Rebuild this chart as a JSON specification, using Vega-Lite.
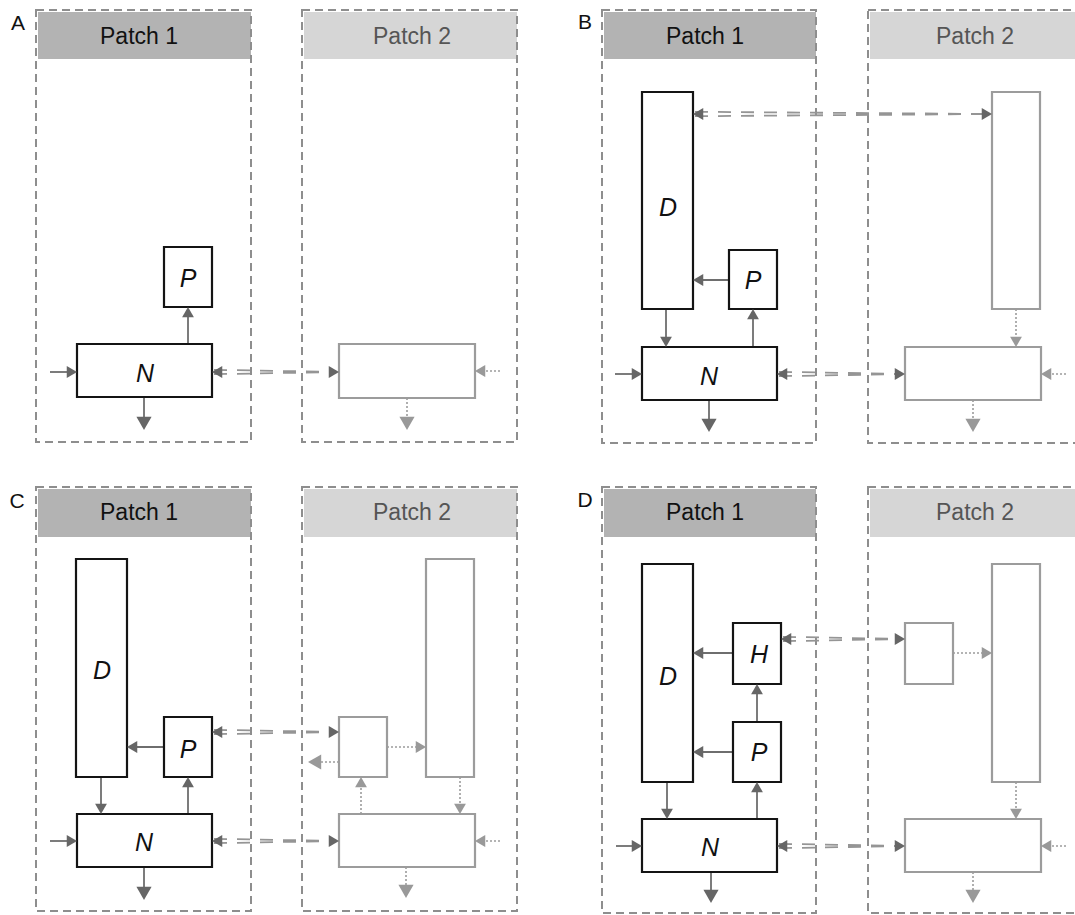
{
  "$schema": "https://vega.github.io/schema/vega-lite/v6.json",
  "width": 1075,
  "height": 915,
  "autosize": "none",
  "padding": 0,
  "background": "white",
  "config": {"view": {"stroke": null}},
  "resolve": {"scale": {"color": "independent", "stroke": "independent"}},
  "datasets": {
    "patches": [
      {"panel": "A", "patch": "1", "title": "Patch 1", "bx0": 36, "bx1": 251, "by0": 10, "by1": 442, "hx0": 38, "hx1": 251, "hy0": 12, "hy1": 59, "tx": 139, "ty": 37},
      {"panel": "A", "patch": "2", "title": "Patch 2", "bx0": 302, "bx1": 517, "by0": 10, "by1": 442, "hx0": 304, "hx1": 517, "hy0": 12, "hy1": 59, "tx": 412, "ty": 37},
      {"panel": "B", "patch": "1", "title": "Patch 1", "bx0": 602, "bx1": 816, "by0": 10, "by1": 443, "hx0": 604, "hx1": 816, "hy0": 12, "hy1": 59, "tx": 705, "ty": 37},
      {"panel": "B", "patch": "2", "title": "Patch 2", "bx0": 868, "bx1": 1083, "by0": 10, "by1": 443, "hx0": 870, "hx1": 1083, "hy0": 12, "hy1": 59, "tx": 975, "ty": 37},
      {"panel": "C", "patch": "1", "title": "Patch 1", "bx0": 36, "bx1": 251, "by0": 487, "by1": 911, "hx0": 38, "hx1": 251, "hy0": 489, "hy1": 537, "tx": 139, "ty": 513},
      {"panel": "C", "patch": "2", "title": "Patch 2", "bx0": 302, "bx1": 517, "by0": 487, "by1": 911, "hx0": 304, "hx1": 517, "hy0": 489, "hy1": 537, "tx": 412, "ty": 513},
      {"panel": "D", "patch": "1", "title": "Patch 1", "bx0": 602, "bx1": 816, "by0": 487, "by1": 913, "hx0": 604, "hx1": 816, "hy0": 489, "hy1": 537, "tx": 705, "ty": 513},
      {"panel": "D", "patch": "2", "title": "Patch 2", "bx0": 868, "bx1": 1083, "by0": 487, "by1": 913, "hx0": 870, "hx1": 1083, "hy0": 489, "hy1": 537, "tx": 975, "ty": 513}
    ],
    "panelLabels": [
      {"label": "A", "x": 18, "y": 24},
      {"label": "B", "x": 585, "y": 23},
      {"label": "C", "x": 17, "y": 502},
      {"label": "D", "x": 585, "y": 501}
    ],
    "boxes": [
      {"panel": "A", "kind": "p1", "label": "P", "x0": 164, "x1": 212, "y0": 247, "y1": 307, "lx": 188, "ly": 279},
      {"panel": "A", "kind": "p1", "label": "N", "x0": 77, "x1": 212, "y0": 344, "y1": 397, "lx": 145, "ly": 374},
      {"panel": "A", "kind": "p2", "label": "", "x0": 339, "x1": 475, "y0": 344, "y1": 398, "lx": 407, "ly": 371},
      {"panel": "B", "kind": "p1", "label": "D", "x0": 642, "x1": 693, "y0": 92, "y1": 309, "lx": 668, "ly": 208},
      {"panel": "B", "kind": "p1", "label": "P", "x0": 729, "x1": 777, "y0": 250, "y1": 309, "lx": 753, "ly": 281},
      {"panel": "B", "kind": "p1", "label": "N", "x0": 642, "x1": 777, "y0": 347, "y1": 400, "lx": 709, "ly": 377},
      {"panel": "B", "kind": "p2", "label": "", "x0": 992, "x1": 1040, "y0": 92, "y1": 309, "lx": 1016, "ly": 200},
      {"panel": "B", "kind": "p2", "label": "", "x0": 905, "x1": 1041, "y0": 347, "y1": 400, "lx": 973, "ly": 374},
      {"panel": "C", "kind": "p1", "label": "D", "x0": 76, "x1": 127, "y0": 559, "y1": 777, "lx": 102, "ly": 671},
      {"panel": "C", "kind": "p1", "label": "P", "x0": 164, "x1": 212, "y0": 717, "y1": 777, "lx": 188, "ly": 750},
      {"panel": "C", "kind": "p1", "label": "N", "x0": 77, "x1": 212, "y0": 814, "y1": 867, "lx": 144, "ly": 843},
      {"panel": "C", "kind": "p2", "label": "", "x0": 339, "x1": 387, "y0": 717, "y1": 777, "lx": 363, "ly": 747},
      {"panel": "C", "kind": "p2", "label": "", "x0": 426, "x1": 474, "y0": 559, "y1": 777, "lx": 450, "ly": 668},
      {"panel": "C", "kind": "p2", "label": "", "x0": 339, "x1": 475, "y0": 814, "y1": 867, "lx": 407, "ly": 841},
      {"panel": "D", "kind": "p1", "label": "D", "x0": 642, "x1": 693, "y0": 564, "y1": 782, "lx": 668, "ly": 677},
      {"panel": "D", "kind": "p1", "label": "H", "x0": 733, "x1": 781, "y0": 623, "y1": 684, "lx": 759, "ly": 655},
      {"panel": "D", "kind": "p1", "label": "P", "x0": 733, "x1": 781, "y0": 722, "y1": 782, "lx": 759, "ly": 753},
      {"panel": "D", "kind": "p1", "label": "N", "x0": 642, "x1": 777, "y0": 819, "y1": 872, "lx": 710, "ly": 848},
      {"panel": "D", "kind": "p2", "label": "", "x0": 905, "x1": 953, "y0": 623, "y1": 684, "lx": 929, "ly": 653},
      {"panel": "D", "kind": "p2", "label": "", "x0": 992, "x1": 1040, "y0": 564, "y1": 782, "lx": 1016, "ly": 673},
      {"panel": "D", "kind": "p2", "label": "", "x0": 905, "x1": 1041, "y0": 819, "y1": 872, "lx": 973, "ly": 846}
    ],
    "lines": [
      {"panel": "A", "style": "solid", "x": 188, "y": 344, "x2": 188, "y2": 309},
      {"panel": "A", "style": "solid", "x": 50, "y": 372, "x2": 75, "y2": 372},
      {"panel": "A", "style": "solid", "x": 144, "y": 397, "x2": 144, "y2": 426},
      {"panel": "A", "style": "double", "x": 214, "y": 372, "x2": 337, "y2": 372},
      {"panel": "A", "style": "dotted", "x": 500, "y": 371, "x2": 477, "y2": 371},
      {"panel": "A", "style": "dotted", "x": 407, "y": 398, "x2": 407, "y2": 426},
      {"panel": "B", "style": "solid", "x": 666, "y": 309, "x2": 666, "y2": 345},
      {"panel": "B", "style": "solid", "x": 753, "y": 347, "x2": 753, "y2": 311},
      {"panel": "B", "style": "solid", "x": 729, "y": 280, "x2": 695, "y2": 280},
      {"panel": "B", "style": "solid", "x": 615, "y": 374, "x2": 640, "y2": 374},
      {"panel": "B", "style": "solid", "x": 709, "y": 400, "x2": 709, "y2": 428},
      {"panel": "B", "style": "double", "x": 695, "y": 114, "x2": 990, "y2": 114},
      {"panel": "B", "style": "double", "x": 779, "y": 374, "x2": 903, "y2": 374},
      {"panel": "B", "style": "dotted", "x": 1016, "y": 309, "x2": 1016, "y2": 345},
      {"panel": "B", "style": "dotted", "x": 1066, "y": 374, "x2": 1043, "y2": 374},
      {"panel": "B", "style": "dotted", "x": 973, "y": 400, "x2": 973, "y2": 428},
      {"panel": "C", "style": "solid", "x": 101, "y": 777, "x2": 101, "y2": 812},
      {"panel": "C", "style": "solid", "x": 188, "y": 814, "x2": 188, "y2": 779},
      {"panel": "C", "style": "solid", "x": 164, "y": 747, "x2": 129, "y2": 747},
      {"panel": "C", "style": "solid", "x": 50, "y": 841, "x2": 75, "y2": 841},
      {"panel": "C", "style": "solid", "x": 144, "y": 867, "x2": 144, "y2": 896},
      {"panel": "C", "style": "double", "x": 214, "y": 732, "x2": 337, "y2": 732},
      {"panel": "C", "style": "double", "x": 214, "y": 841, "x2": 337, "y2": 841},
      {"panel": "C", "style": "dotted", "x": 387, "y": 747, "x2": 424, "y2": 747},
      {"panel": "C", "style": "dotted", "x": 339, "y": 762, "x2": 313, "y2": 762},
      {"panel": "C", "style": "dotted", "x": 361, "y": 814, "x2": 361, "y2": 779},
      {"panel": "C", "style": "dotted", "x": 460, "y": 777, "x2": 460, "y2": 812},
      {"panel": "C", "style": "dotted", "x": 500, "y": 841, "x2": 477, "y2": 841},
      {"panel": "C", "style": "dotted", "x": 406, "y": 867, "x2": 406, "y2": 894},
      {"panel": "D", "style": "solid", "x": 667, "y": 782, "x2": 667, "y2": 817},
      {"panel": "D", "style": "solid", "x": 757, "y": 819, "x2": 757, "y2": 784},
      {"panel": "D", "style": "solid", "x": 757, "y": 722, "x2": 757, "y2": 686},
      {"panel": "D", "style": "solid", "x": 733, "y": 653, "x2": 695, "y2": 653},
      {"panel": "D", "style": "solid", "x": 733, "y": 752, "x2": 695, "y2": 752},
      {"panel": "D", "style": "solid", "x": 616, "y": 846, "x2": 640, "y2": 846},
      {"panel": "D", "style": "solid", "x": 711, "y": 872, "x2": 711, "y2": 899},
      {"panel": "D", "style": "double", "x": 783, "y": 639, "x2": 903, "y2": 639},
      {"panel": "D", "style": "double", "x": 779, "y": 846, "x2": 903, "y2": 846},
      {"panel": "D", "style": "dotted", "x": 953, "y": 653, "x2": 990, "y2": 653},
      {"panel": "D", "style": "dotted", "x": 1016, "y": 782, "x2": 1016, "y2": 817},
      {"panel": "D", "style": "dotted", "x": 1066, "y": 846, "x2": 1043, "y2": 846},
      {"panel": "D", "style": "dotted", "x": 973, "y": 872, "x2": 973, "y2": 899}
    ],
    "heads": [
      {"x": 188, "y": 307, "dir": "up", "sz": "s", "tone": "dark"},
      {"x": 77, "y": 372, "dir": "right", "sz": "s", "tone": "dark"},
      {"x": 144, "y": 430, "dir": "down", "sz": "b", "tone": "dark"},
      {"x": 212, "y": 372, "dir": "left", "sz": "s", "tone": "dark"},
      {"x": 339, "y": 372, "dir": "right", "sz": "s", "tone": "dark"},
      {"x": 475, "y": 371, "dir": "left", "sz": "s", "tone": "light"},
      {"x": 407, "y": 430, "dir": "down", "sz": "b", "tone": "light"},
      {"x": 666, "y": 347, "dir": "down", "sz": "s", "tone": "dark"},
      {"x": 753, "y": 309, "dir": "up", "sz": "s", "tone": "dark"},
      {"x": 693, "y": 280, "dir": "left", "sz": "s", "tone": "dark"},
      {"x": 642, "y": 374, "dir": "right", "sz": "s", "tone": "dark"},
      {"x": 709, "y": 432, "dir": "down", "sz": "b", "tone": "dark"},
      {"x": 693, "y": 114, "dir": "left", "sz": "s", "tone": "dark"},
      {"x": 992, "y": 114, "dir": "right", "sz": "s", "tone": "dark"},
      {"x": 777, "y": 374, "dir": "left", "sz": "s", "tone": "dark"},
      {"x": 905, "y": 374, "dir": "right", "sz": "s", "tone": "dark"},
      {"x": 1016, "y": 347, "dir": "down", "sz": "s", "tone": "light"},
      {"x": 1041, "y": 374, "dir": "left", "sz": "s", "tone": "light"},
      {"x": 973, "y": 432, "dir": "down", "sz": "b", "tone": "light"},
      {"x": 101, "y": 814, "dir": "down", "sz": "s", "tone": "dark"},
      {"x": 188, "y": 777, "dir": "up", "sz": "s", "tone": "dark"},
      {"x": 127, "y": 747, "dir": "left", "sz": "s", "tone": "dark"},
      {"x": 77, "y": 841, "dir": "right", "sz": "s", "tone": "dark"},
      {"x": 144, "y": 900, "dir": "down", "sz": "b", "tone": "dark"},
      {"x": 212, "y": 732, "dir": "left", "sz": "s", "tone": "dark"},
      {"x": 339, "y": 732, "dir": "right", "sz": "s", "tone": "dark"},
      {"x": 212, "y": 841, "dir": "left", "sz": "s", "tone": "dark"},
      {"x": 339, "y": 841, "dir": "right", "sz": "s", "tone": "dark"},
      {"x": 426, "y": 747, "dir": "right", "sz": "s", "tone": "light"},
      {"x": 308, "y": 762, "dir": "left", "sz": "b", "tone": "light"},
      {"x": 361, "y": 777, "dir": "up", "sz": "s", "tone": "light"},
      {"x": 460, "y": 814, "dir": "down", "sz": "s", "tone": "light"},
      {"x": 475, "y": 841, "dir": "left", "sz": "s", "tone": "light"},
      {"x": 406, "y": 898, "dir": "down", "sz": "b", "tone": "light"},
      {"x": 667, "y": 819, "dir": "down", "sz": "s", "tone": "dark"},
      {"x": 757, "y": 782, "dir": "up", "sz": "s", "tone": "dark"},
      {"x": 757, "y": 684, "dir": "up", "sz": "s", "tone": "dark"},
      {"x": 693, "y": 653, "dir": "left", "sz": "s", "tone": "dark"},
      {"x": 693, "y": 752, "dir": "left", "sz": "s", "tone": "dark"},
      {"x": 642, "y": 846, "dir": "right", "sz": "s", "tone": "dark"},
      {"x": 711, "y": 903, "dir": "down", "sz": "b", "tone": "dark"},
      {"x": 781, "y": 639, "dir": "left", "sz": "s", "tone": "dark"},
      {"x": 905, "y": 639, "dir": "right", "sz": "s", "tone": "dark"},
      {"x": 777, "y": 846, "dir": "left", "sz": "s", "tone": "dark"},
      {"x": 905, "y": 846, "dir": "right", "sz": "s", "tone": "dark"},
      {"x": 992, "y": 653, "dir": "right", "sz": "s", "tone": "light"},
      {"x": 1016, "y": 819, "dir": "down", "sz": "s", "tone": "light"},
      {"x": 1041, "y": 846, "dir": "left", "sz": "s", "tone": "light"},
      {"x": 973, "y": 903, "dir": "down", "sz": "b", "tone": "light"}
    ]
  },
  "layer": [
    {
      "data": {"name": "patches"},
      "mark": {"type": "rect", "strokeWidth": 0},
      "encoding": {
        "x": {"field": "hx0", "type": "quantitative", "scale": {"domain": [0, 1075], "nice": false, "zero": false}, "axis": null},
        "x2": {"field": "hx1"},
        "y": {"field": "hy0", "type": "quantitative", "scale": {"domain": [0, 915], "nice": false, "zero": false, "reverse": true}, "axis": null},
        "y2": {"field": "hy1"},
        "color": {"field": "patch", "type": "nominal", "scale": {"domain": ["1", "2"], "range": ["#b3b3b3", "#d6d6d6"]}, "legend": null}
      }
    },
    {
      "data": {"name": "patches"},
      "mark": {"type": "rect", "filled": false, "stroke": "#8e8e8e", "strokeWidth": 2, "strokeDash": [8, 5]},
      "encoding": {
        "x": {"field": "bx0", "type": "quantitative", "scale": {"domain": [0, 1075], "nice": false, "zero": false}, "axis": null},
        "x2": {"field": "bx1"},
        "y": {"field": "by0", "type": "quantitative", "scale": {"domain": [0, 915], "nice": false, "zero": false, "reverse": true}, "axis": null},
        "y2": {"field": "by1"}
      }
    },
    {
      "data": {"name": "patches"},
      "mark": {"type": "text", "font": "Liberation Sans", "fontSize": 23, "align": "center", "baseline": "middle"},
      "encoding": {
        "x": {"field": "tx", "type": "quantitative", "scale": {"domain": [0, 1075], "nice": false, "zero": false}, "axis": null},
        "y": {"field": "ty", "type": "quantitative", "scale": {"domain": [0, 915], "nice": false, "zero": false, "reverse": true}, "axis": null},
        "text": {"field": "title"},
        "color": {"field": "patch", "type": "nominal", "scale": {"domain": ["1", "2"], "range": ["#111111", "#555555"]}, "legend": null}
      }
    },
    {
      "data": {"name": "panelLabels"},
      "mark": {"type": "text", "font": "Liberation Sans", "fontSize": 21, "align": "center", "baseline": "middle", "color": "#111111"},
      "encoding": {
        "x": {"field": "x", "type": "quantitative", "scale": {"domain": [0, 1075], "nice": false, "zero": false}, "axis": null},
        "y": {"field": "y", "type": "quantitative", "scale": {"domain": [0, 915], "nice": false, "zero": false, "reverse": true}, "axis": null},
        "text": {"field": "label"}
      }
    },
    {
      "data": {"name": "lines"},
      "transform": [{"filter": "datum.style === 'solid'"}],
      "mark": {"type": "rule", "color": "#6e6e6e", "strokeWidth": 1.8},
      "encoding": {
        "x": {"field": "x", "type": "quantitative", "scale": {"domain": [0, 1075], "nice": false, "zero": false}, "axis": null},
        "x2": {"field": "x2"},
        "y": {"field": "y", "type": "quantitative", "scale": {"domain": [0, 915], "nice": false, "zero": false, "reverse": true}, "axis": null},
        "y2": {"field": "y2"}
      }
    },
    {
      "data": {"name": "lines"},
      "transform": [{"filter": "datum.style === 'dotted'"}],
      "mark": {"type": "rule", "color": "#9c9c9c", "strokeWidth": 1.6, "strokeDash": [2, 2]},
      "encoding": {
        "x": {"field": "x", "type": "quantitative", "scale": {"domain": [0, 1075], "nice": false, "zero": false}, "axis": null},
        "x2": {"field": "x2"},
        "y": {"field": "y", "type": "quantitative", "scale": {"domain": [0, 915], "nice": false, "zero": false, "reverse": true}, "axis": null},
        "y2": {"field": "y2"}
      }
    },
    {
      "data": {"name": "lines"},
      "transform": [{"filter": "datum.style === 'double'"}],
      "mark": {"type": "rule", "color": "#959595", "strokeWidth": 1.8, "strokeDash": [13, 10], "yOffset": -2.2},
      "encoding": {
        "x": {"field": "x", "type": "quantitative", "scale": {"domain": [0, 1075], "nice": false, "zero": false}, "axis": null},
        "x2": {"field": "x2"},
        "y": {"field": "y", "type": "quantitative", "scale": {"domain": [0, 915], "nice": false, "zero": false, "reverse": true}, "axis": null},
        "y2": {"field": "y2"}
      }
    },
    {
      "data": {"name": "lines"},
      "transform": [{"filter": "datum.style === 'double'"}],
      "mark": {"type": "rule", "color": "#959595", "strokeWidth": 1.8, "strokeDash": [13, 10], "yOffset": 2.2},
      "encoding": {
        "x": {"field": "x", "type": "quantitative", "scale": {"domain": [0, 1075], "nice": false, "zero": false}, "axis": null},
        "x2": {"field": "x2"},
        "y": {"field": "y", "type": "quantitative", "scale": {"domain": [0, 915], "nice": false, "zero": false, "reverse": true}, "axis": null},
        "y2": {"field": "y2"}
      }
    },
    {
      "data": {"name": "boxes"},
      "mark": {"type": "rect", "fill": "white", "strokeWidth": 2.2},
      "encoding": {
        "x": {"field": "x0", "type": "quantitative", "scale": {"domain": [0, 1075], "nice": false, "zero": false}, "axis": null},
        "x2": {"field": "x1"},
        "y": {"field": "y0", "type": "quantitative", "scale": {"domain": [0, 915], "nice": false, "zero": false, "reverse": true}, "axis": null},
        "y2": {"field": "y1"},
        "stroke": {"field": "kind", "type": "nominal", "scale": {"domain": ["p1", "p2"], "range": ["#141414", "#9c9c9c"]}, "legend": null}
      }
    },
    {
      "data": {"name": "boxes"},
      "mark": {"type": "text", "font": "Liberation Sans", "fontSize": 25, "fontStyle": "italic", "align": "center", "baseline": "middle", "color": "#111111"},
      "encoding": {
        "x": {"field": "lx", "type": "quantitative", "scale": {"domain": [0, 1075], "nice": false, "zero": false}, "axis": null},
        "y": {"field": "ly", "type": "quantitative", "scale": {"domain": [0, 915], "nice": false, "zero": false, "reverse": true}, "axis": null},
        "text": {"field": "label"}
      }
    },
    {
      "data": {"name": "heads"},
      "transform": [{"filter": "datum.dir === 'up' && datum.sz === 's'"}],
      "mark": {"type": "point", "shape": "triangle-up", "filled": true, "size": 140, "opacity": 1, "strokeWidth": 0, "yOffset": 5.1},
      "encoding": {
        "x": {"field": "x", "type": "quantitative", "scale": {"domain": [0, 1075], "nice": false, "zero": false}, "axis": null},
        "y": {"field": "y", "type": "quantitative", "scale": {"domain": [0, 915], "nice": false, "zero": false, "reverse": true}, "axis": null},
        "color": {"field": "tone", "type": "nominal", "scale": {"domain": ["dark", "light"], "range": ["#666666", "#999999"]}, "legend": null}
      }
    },
    {
      "data": {"name": "heads"},
      "transform": [{"filter": "datum.dir === 'down' && datum.sz === 's'"}],
      "mark": {"type": "point", "shape": "triangle-down", "filled": true, "size": 140, "opacity": 1, "strokeWidth": 0, "yOffset": -5.1},
      "encoding": {
        "x": {"field": "x", "type": "quantitative", "scale": {"domain": [0, 1075], "nice": false, "zero": false}, "axis": null},
        "y": {"field": "y", "type": "quantitative", "scale": {"domain": [0, 915], "nice": false, "zero": false, "reverse": true}, "axis": null},
        "color": {"field": "tone", "type": "nominal", "scale": {"domain": ["dark", "light"], "range": ["#666666", "#999999"]}, "legend": null}
      }
    },
    {
      "data": {"name": "heads"},
      "transform": [{"filter": "datum.dir === 'left' && datum.sz === 's'"}],
      "mark": {"type": "point", "shape": "triangle-left", "filled": true, "size": 140, "opacity": 1, "strokeWidth": 0, "xOffset": 5.1},
      "encoding": {
        "x": {"field": "x", "type": "quantitative", "scale": {"domain": [0, 1075], "nice": false, "zero": false}, "axis": null},
        "y": {"field": "y", "type": "quantitative", "scale": {"domain": [0, 915], "nice": false, "zero": false, "reverse": true}, "axis": null},
        "color": {"field": "tone", "type": "nominal", "scale": {"domain": ["dark", "light"], "range": ["#666666", "#999999"]}, "legend": null}
      }
    },
    {
      "data": {"name": "heads"},
      "transform": [{"filter": "datum.dir === 'right' && datum.sz === 's'"}],
      "mark": {"type": "point", "shape": "triangle-right", "filled": true, "size": 140, "opacity": 1, "strokeWidth": 0, "xOffset": -5.1},
      "encoding": {
        "x": {"field": "x", "type": "quantitative", "scale": {"domain": [0, 1075], "nice": false, "zero": false}, "axis": null},
        "y": {"field": "y", "type": "quantitative", "scale": {"domain": [0, 915], "nice": false, "zero": false, "reverse": true}, "axis": null},
        "color": {"field": "tone", "type": "nominal", "scale": {"domain": ["dark", "light"], "range": ["#666666", "#999999"]}, "legend": null}
      }
    },
    {
      "data": {"name": "heads"},
      "transform": [{"filter": "datum.dir === 'down' && datum.sz === 'b'"}],
      "mark": {"type": "point", "shape": "triangle-down", "filled": true, "size": 230, "opacity": 1, "strokeWidth": 0, "yOffset": -6.6},
      "encoding": {
        "x": {"field": "x", "type": "quantitative", "scale": {"domain": [0, 1075], "nice": false, "zero": false}, "axis": null},
        "y": {"field": "y", "type": "quantitative", "scale": {"domain": [0, 915], "nice": false, "zero": false, "reverse": true}, "axis": null},
        "color": {"field": "tone", "type": "nominal", "scale": {"domain": ["dark", "light"], "range": ["#666666", "#999999"]}, "legend": null}
      }
    },
    {
      "data": {"name": "heads"},
      "transform": [{"filter": "datum.dir === 'left' && datum.sz === 'b'"}],
      "mark": {"type": "point", "shape": "triangle-left", "filled": true, "size": 230, "opacity": 1, "strokeWidth": 0, "xOffset": 6.6},
      "encoding": {
        "x": {"field": "x", "type": "quantitative", "scale": {"domain": [0, 1075], "nice": false, "zero": false}, "axis": null},
        "y": {"field": "y", "type": "quantitative", "scale": {"domain": [0, 915], "nice": false, "zero": false, "reverse": true}, "axis": null},
        "color": {"field": "tone", "type": "nominal", "scale": {"domain": ["dark", "light"], "range": ["#666666", "#999999"]}, "legend": null}
      }
    }
  ]
}
